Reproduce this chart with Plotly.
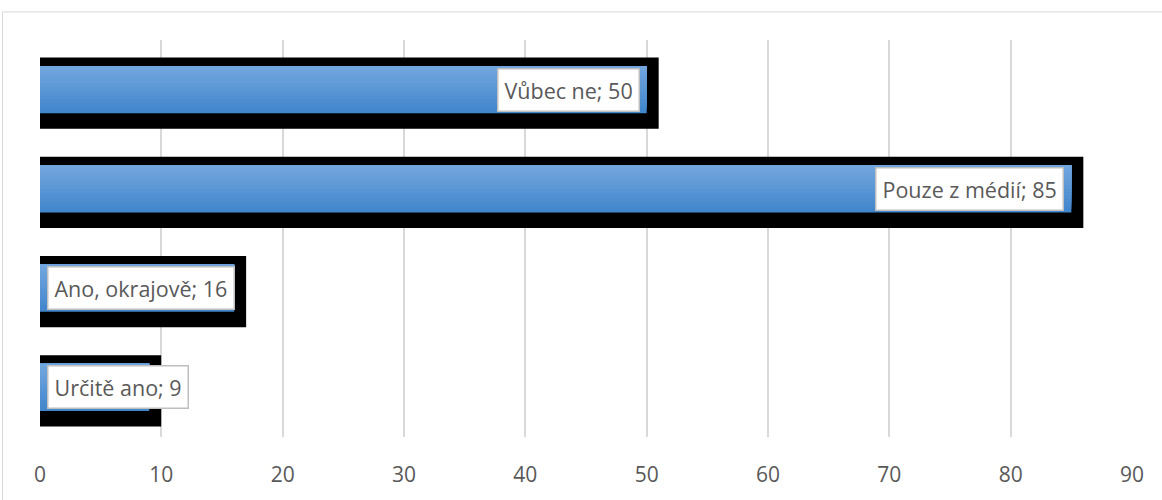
import plotly.graph_objects as go

# Data (bottom-to-top order, as in the source chart)
categories = ["Určitě ano", "Ano, okrajově", "Pouze z médií", "Vůbec ne"]
values = [9, 16, 85, 50]
tick_vals = [0, 10, 20, 30, 40, 50, 60, 70, 80, 90]

FONT = "Open Sans"
TXT = "#595959"
GRID = "#d9d9d9"

BAR_W = 0.475
SHADOW_SHIFT = 0.035

fig = go.Figure()

# Black shadow behind bars
fig.add_trace(go.Bar(
    y=categories, x=values, orientation="h",
    width=BAR_W, offset=-BAR_W / 2 - SHADOW_SHIFT,
    marker=dict(color="black", line=dict(color="black", width=24)),
    hoverinfo="skip", showlegend=False,
))

# Gradient blue bars (layered slices, light at top, dark at bottom)
top = (114, 166, 222)
bot = (66, 134, 204)
N = 14
for i in range(N):
    t = i / (N - 1)
    c = tuple(round(bot[k] + (top[k] - bot[k]) * t) for k in range(3))
    frac = (N - i) / N
    w = BAR_W * frac
    fig.add_trace(go.Bar(
        y=categories, x=values, orientation="h",
        width=w, offset=BAR_W / 2 - w,
        marker=dict(color="rgb(%d,%d,%d)" % c, line=dict(width=0)),
        hoverinfo="skip", showlegend=False,
    ))

# Data labels
for cat, v in zip(categories, values):
    inside = v >= 30
    fig.add_annotation(
        x=v if inside else 0, y=cat, xref="x", yref="y",
        text=f"{cat}; {v}",
        xanchor="right" if inside else "left",
        xshift=-7 if inside else 7,
        yshift=0,
        showarrow=False,
        font=dict(family=FONT, size=21.5, color=TXT),
        bgcolor="white", bordercolor="#bfbfbf", borderwidth=1.5, borderpad=6,
    )

# Outer chart border
fig.add_shape(type="rect", xref="paper", yref="paper",
              x0=(2.5 - 40) / 1092, x1=1.1, y0=-0.3, y1=(443 - 11.5) / 403,
              line=dict(color=GRID, width=1), fillcolor="rgba(0,0,0,0)", layer="below")

fig.update_layout(
    width=1162, height=500,
    margin=dict(l=40, r=30, t=40, b=57),
    paper_bgcolor="white", plot_bgcolor="white",
    barmode="overlay",
    font=dict(family=FONT, color=TXT),
    xaxis=dict(range=[0, 90], tickvals=tick_vals, showgrid=True, gridcolor=GRID,
               gridwidth=2, zeroline=False, showline=False, ticks="",
               tickfont=dict(family=FONT, size=21, color=TXT), ticklabelstandoff=23,
               fixedrange=True),
    yaxis=dict(showticklabels=False, showgrid=False, zeroline=False, showline=False,
               categoryorder="array", categoryarray=categories, range=[-0.5, 3.5],
               fixedrange=True),
)

fig.write_html("out.html", config={"displayModeBar": False},
               post_script="document.body.style.margin='0';document.body.style.overflow='hidden';")
